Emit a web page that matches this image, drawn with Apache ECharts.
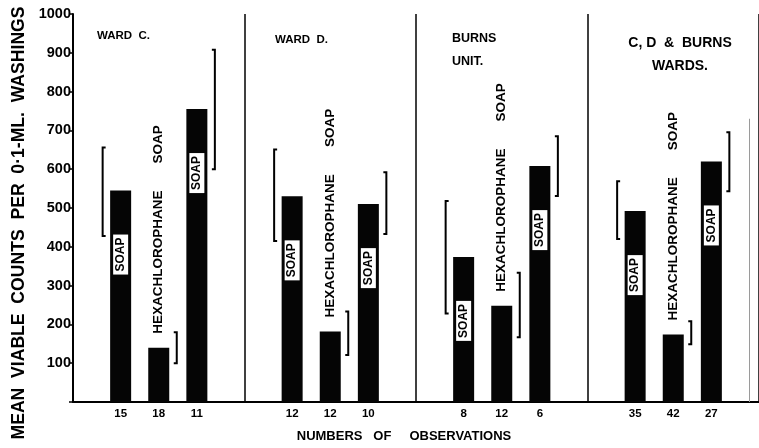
<!DOCTYPE html>
<html>
<head>
<meta charset="utf-8">
<script src="https://cdn.jsdelivr.net/npm/echarts@6/dist/echarts.min.js"></script>
<style>
  html, body { margin: 0; padding: 0; background: #fff; }
  #chart { width: 759px; height: 448px; }
</style>
</head>
<body>
<div id="chart"></div>
<script>
// Mean viable counts per 0.1 ml of hand washings, by ward and by soap used
const wards = ['WARD  C.', 'WARD  D.', 'BURNS\nUNIT.', 'C, D  &  BURNS\nWARDS.'];
const treatments = ['SOAP', 'HEXACHLOROPHANE SOAP', 'SOAP'];
const observations = [[15, 18, 11], [12, 12, 10], [8, 12, 6], [35, 42, 27]];
const meanCounts = [[545, 140, 755], [530, 182, 510], [374, 248, 608], [492, 174, 620]];
const rangeLow = [[428, 100, 600], [415, 121, 433], [228, 167, 531], [420, 149, 543]];
const rangeHigh = [[656, 180, 908], [651, 233, 592], [518, 333, 685], [569, 208, 695]];
const yTicks = [100, 200, 300, 400, 500, 600, 700, 800, 900, 1000];

// Each ward occupies 9 half-width slots on the category axis; bars sit on every other slot
const SLOTS_PER_WARD = 9;
const FIRST_SLOT = 2;
const SLOT_STEP = 2;
const TOTAL_SLOTS = wards.length * SLOTS_PER_WARD;

const categories = new Array(TOTAL_SLOTS).fill('');
const barData = new Array(TOTAL_SLOTS).fill(null);
const bracketData = [];

const FONT = '"Liberation Sans", Arial, sans-serif';

wards.forEach((ward, w) => {
  treatments.forEach((t, k) => {
    const slot = w * SLOTS_PER_WARD + FIRST_SLOT + k * SLOT_STEP;
    categories[slot] = String(observations[w][k]);
    const isPlain = t === 'SOAP';
    barData[slot] = {
      value: meanCounts[w][k],
      label: isPlain ? {
        show: true,
        formatter: t,
        position: 'insideTop',
        distance: 44,
        rotate: 90,
        align: 'right',
        verticalAlign: 'middle',
        color: '#000',
        backgroundColor: '#fff',
        padding: [2, 3, 1, 3],
        fontFamily: FONT,
        fontWeight: 'bold',
        fontSize: 12
      } : {
        show: true,
        formatter: t.split(' ').join('\u2003\u2003'),
        position: 'top',
        distance: 14,
        rotate: 90,
        align: 'left',
        verticalAlign: 'middle',
        color: '#000',
        fontFamily: FONT,
        fontWeight: 'bold',
        fontSize: 13.5
      }
    };
    // bracket sits left of the first bar, right of the others
    bracketData.push([slot, rangeLow[w][k], rangeHigh[w][k], k === 0 ? -1 : 1]);
  });
});

const wardTitles = [
  { text: wards[0], left: 92, top: 19, align: 'left', size: 11.5 },
  { text: wards[1], left: 270, top: 23, align: 'left', size: 11.5 },
  { text: wards[2], left: 447, top: 22, align: 'left', size: 12.5 },
  { text: wards[3], left: 675, top: 27, align: 'center', size: 14 }
].map(t => ({
  text: t.text,
  left: t.left,
  top: t.top,
  textAlign: t.align,
  textStyle: {
    fontFamily: FONT, fontWeight: 'bold', fontSize: t.size, color: '#000', lineHeight: 23,
    align: t.align
  }
}));

const chart = echarts.init(document.getElementById('chart'), null, { renderer: 'canvas' });

chart.setOption({
  backgroundColor: '#fff',
  animation: false,
  title: wardTitles,
  grid: { left: 73, right: -6, top: 14, bottom: 44, containLabel: false },
  xAxis: {
    type: 'category',
    data: categories,
    boundaryGap: true,
    name: 'NUMBERS   OF     OBSERVATIONS',
    nameLocation: 'middle',
    nameGap: 28,
    nameTextStyle: {
      fontFamily: FONT, fontWeight: 'bold', fontSize: 13, color: '#000',
      padding: [0, 24, 0, 0]
    },
    axisLine: { lineStyle: { color: '#000', width: 2 } },
    axisTick: { show: false },
    axisLabel: {
      interval: 0, margin: 6,
      fontFamily: FONT, fontWeight: 'bold', fontSize: 11.5, color: '#000'
    },
    splitLine: {
      show: true,
      interval: (i) => i > 0 && i % SLOTS_PER_WARD === 0,
      lineStyle: { color: '#000', width: 1.5 }
    }
  },
  yAxis: {
    type: 'value',
    min: 0,
    max: yTicks[yTicks.length - 1],
    interval: yTicks[1] - yTicks[0],
    name: 'MEAN  VIABLE  COUNTS  PER  0\u00b71-ML.  WASHINGS',
    nameLocation: 'middle',
    nameGap: 45,
    nameTextStyle: {
      fontFamily: FONT, fontWeight: 'bold', fontSize: 17.6, color: '#000',
      padding: [0, 30, 0, 0]
    },
    axisLine: { show: true, lineStyle: { color: '#000', width: 2 } },
    axisTick: { show: true, inside: false, length: 4, lineStyle: { color: '#000', width: 1.5 } },
    axisLabel: {
      margin: 2,
      fontFamily: FONT, fontWeight: 'bold', fontSize: 14.5, color: '#000',
      formatter: (v) => (yTicks.indexOf(v) >= 0 ? String(v) : '')
    },
    splitLine: { show: false }
  },
  series: [
    {
      type: 'bar',
      data: barData,
      barWidth: 21,
      itemStyle: { color: '#050505' },
      markLine: {
        silent: true,
        symbol: 'none',
        label: { show: false },
        lineStyle: { color: '#9a9a9a', width: 1, type: 'solid' },
        data: [[{ coord: [TOTAL_SLOTS - 1, 730] }, { coord: [TOTAL_SLOTS - 1, 0] }]]
      },
      z: 2
    },
    {
      type: 'custom',
      data: bracketData,
      encode: { x: 0, y: [1, 2] },
      renderItem: (params, api) => {
        const slot = api.value(0);
        const hi = api.coord([slot, api.value(2)]);
        const lo = api.coord([slot, api.value(1)]);
        const side = api.value(3);
        const x = hi[0] + side * 18;
        const s = -side * 3;
        return {
          type: 'polyline',
          shape: { points: [[x + s, hi[1]], [x, hi[1]], [x, lo[1]], [x + s, lo[1]]] },
          style: { stroke: '#000', lineWidth: 2, fill: null }
        };
      },
      z: 3
    }
  ]
});
</script>
</body>
</html>
